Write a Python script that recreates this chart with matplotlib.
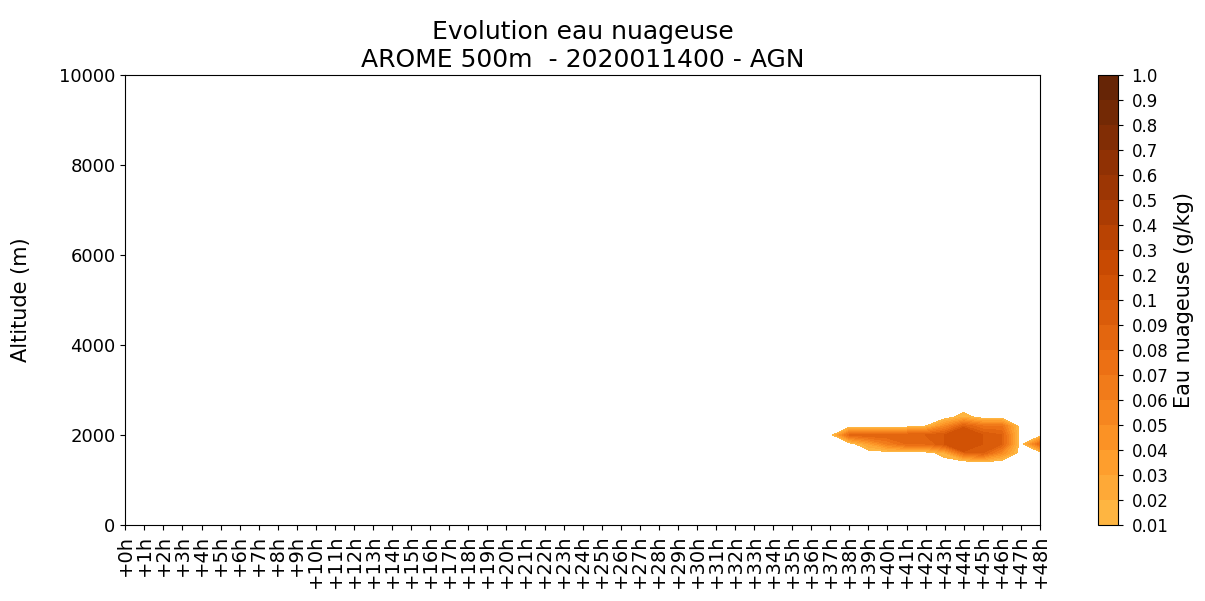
import numpy as np
import matplotlib
matplotlib.use('Agg')
import matplotlib.pyplot as plt
from matplotlib.colors import ListedColormap, BoundaryNorm

# echeances (h) et niveaux (m)
hours = np.arange(0, 49)
alts = [0, 1200, 1400, 1600, 1800, 2000, 2200, 2400, 2600, 10000]

# eau nuageuse (g/kg) sur la zone nuageuse, heures 38..48, altitudes 1400..2400
cloud_hours = [38, 39, 40, 41, 42, 43, 44, 45, 46, 47, 48]
cloud_alts = [1400, 1600, 1800, 2000, 2200, 2400]
cloud_vals = [
    # 38    39    40    41    42    43    44    45    46    47    48
    [0.0, 0.0, 0.0, 0.0, 0.0, 0.0, 0.0, 0.01, 0.0, 0.0, 0.0],      # 1400
    [0.0, 0.0, 0.0, 0.0, 0.0, 0.02, 0.08, 0.09, 0.05, 0.0, 0.0],   # 1600
    [0.0, 0.03, 0.06, 0.08, 0.08, 0.1, 0.2, 0.1, 0.09, 0.0, 0.08],  # 1800
    [0.08, 0.09, 0.09, 0.09, 0.09, 0.1, 0.15, 0.1, 0.09, 0.0, 0.0],  # 2000
    [0.0, 0.0, 0.0, 0.0, 0.01, 0.05, 0.09, 0.07, 0.07, 0.0, 0.0],  # 2200
    [0.0, 0.0, 0.0, 0.0, 0.0, 0.0, 0.02, 0.0, 0.0, 0.0, 0.0],      # 2400
]

levels = [0.01, 0.02, 0.03, 0.04, 0.05, 0.06, 0.07, 0.08, 0.09,
          0.1, 0.2, 0.3, 0.4, 0.5, 0.6, 0.7, 0.8, 0.9, 1.0]
level_labels = ['0.01', '0.02', '0.03', '0.04', '0.05', '0.06', '0.07', '0.08', '0.09',
                '0.1', '0.2', '0.3', '0.4', '0.5', '0.6', '0.7', '0.8', '0.9', '1.0']
xlabels = ['+%dh' % h for h in hours]

# grille complete
field = np.zeros((len(alts), len(hours)))
for i, a in enumerate(cloud_alts):
    for j, h in enumerate(cloud_hours):
        field[alts.index(a), h] = cloud_vals[i][j]

cmap = ListedColormap(plt.cm.YlOrBr(np.linspace(0.42, 1.0, len(levels) - 1)))
norm = BoundaryNorm(levels, cmap.N)

fig = plt.figure(figsize=(12.05, 6.01), dpi=100)
ax = fig.add_axes([0.104, 0.1265, 0.759, 0.7485])
cax = fig.add_axes([0.911, 0.1265, 0.017, 0.7485])

cs = ax.contourf(hours, alts, field, levels=levels, cmap=cmap, norm=norm)
ax.set_ylim(0, 10000)
ax.set_xlim(0, 48)
ax.set_xticks(hours)
ax.set_xticklabels(xlabels, rotation=90, fontsize=14)
ax.set_yticks([0, 2000, 4000, 6000, 8000, 10000])
ax.tick_params(axis='y', labelsize=13)
ax.set_ylabel('Altitude (m)', fontsize=15, labelpad=20)
ax.set_title('Evolution eau nuageuse\nAROME 500m  - 2020011400 - AGN', fontsize=18)

cb = fig.colorbar(cs, cax=cax, ticks=levels)
cb.ax.set_yticklabels(level_labels, fontsize=12)
cb.ax.tick_params(pad=6)
cb.set_label('Eau nuageuse (g/kg)', fontsize=15)

plt.savefig('out.png')
